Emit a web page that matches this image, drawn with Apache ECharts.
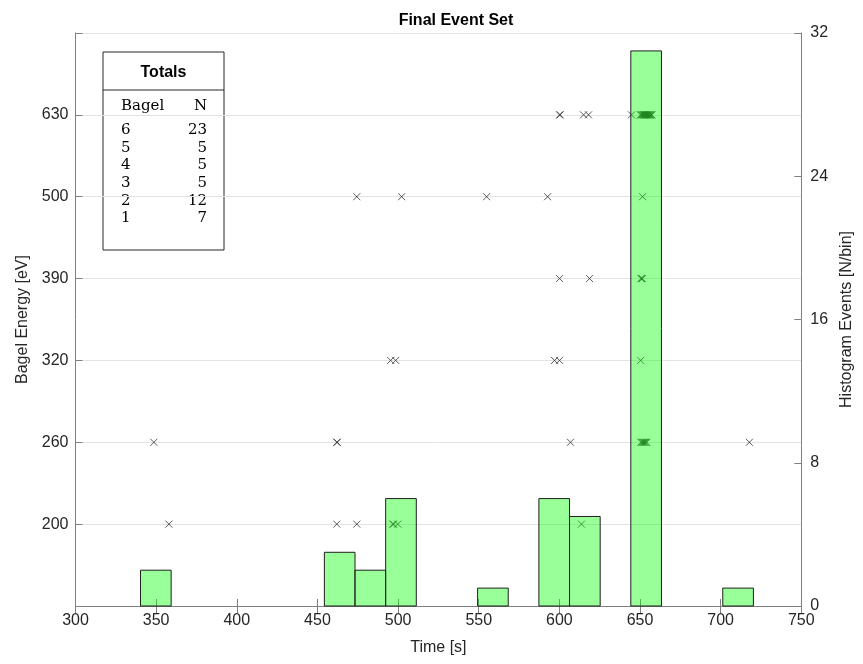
<!DOCTYPE html>
<html>
<head>
<meta charset="utf-8">
<script src="https://cdn.jsdelivr.net/npm/echarts@6/dist/echarts.min.js"></script>
<style>
  html, body { margin: 0; padding: 0; background: #ffffff; }
  #chart { width: 863px; height: 664px; }
</style>
</head>
<body>
<div id="chart"></div>
<script>
// Bagel index 1..6 and the energy each one is labelled with
const bagelIds = [1, 2, 3, 4, 5, 6];
const energyLabels = ['200', '260', '320', '390', '500', '630'];

// Event arrival times [s], one array per bagel
const eventTimes1 = [357.9, 462.0, 474.4, 496.7, 497.2, 499.8, 613.7];
const eventTimes2 = [348.6, 462.0, 462.3, 606.9, 650.5, 651.2, 651.8, 652.3, 652.9, 653.5, 654.2, 717.8];
const eventTimes3 = [495.4, 498.5, 597.0, 600.1, 650.4];
const eventTimes4 = [600.1, 618.7, 650.6, 651.0, 651.4];
const eventTimes5 = [474.4, 502.2, 554.9, 592.7, 651.6];
const eventTimes6 = [600.1, 600.5, 615.0, 618.1, 644.7,
                     650.2, 650.8, 651.3, 651.9, 652.4, 652.6, 653.0, 653.3, 653.7,
                     654.1, 654.4, 654.8, 655.2, 655.6, 656.0, 656.5, 657.0, 657.3];

// Histogram of all events: first edge, bin width and counts per bin
const histStart = 340.3;
const histBinWidth = 19;
const histCounts = [2, 0, 0, 0, 0, 0, 3, 2, 6, 0, 0, 1, 0, 6, 5, 0, 31, 0, 0, 1];

// Axis ranges
const timeRange = [300, 750, 50];
const histRange = [0, 32, 8];

const eventsByBagel = [eventTimes1, eventTimes2, eventTimes3, eventTimes4, eventTimes5, eventTimes6];

const scatterData = [];
eventsByBagel.forEach((times, i) => {
  times.forEach(t => scatterData.push([t, bagelIds[i]]));
});

const histData = [];
histCounts.forEach((c, i) => {
  if (c > 0) {
    const x0 = histStart + i * histBinWidth;
    histData.push([x0, x0 + histBinWidth, c]);
  }
});

const FONT = 'Liberation Sans, Arial, Helvetica, sans-serif';
const SERIF = 'DejaVu Serif, Liberation Serif, serif';
const AXIS_COLOR = '#808080';
const TEXT_COLOR = '#262626';
const LABEL_SIZE = 16;

const chart = echarts.init(document.getElementById('chart'), null, { renderer: 'canvas' });

// Totals table (upper left)
const tableX = 103, tableY = 52, tableW = 121, tableH = 198;
const tableChildren = [
  { type: 'rect', shape: { x: tableX, y: tableY, width: tableW, height: tableH },
    style: { fill: '#ffffff', stroke: '#262626', lineWidth: 1 } },
  { type: 'line', shape: { x1: tableX, y1: 90, x2: tableX + tableW, y2: 90 },
    style: { stroke: '#262626', lineWidth: 1 } },
  { type: 'text', x: tableX + tableW / 2, y: 73,
    style: { text: 'Totals', font: 'bold 16px ' + FONT, fill: '#000', align: 'center', verticalAlign: 'middle' } },
  { type: 'text', x: 121, y: 106,
    style: { text: 'Bagel', font: '15px ' + SERIF, fill: '#000', align: 'left', verticalAlign: 'middle' } },
  { type: 'text', x: 207, y: 106,
    style: { text: 'N', font: '15px ' + SERIF, fill: '#000', align: 'right', verticalAlign: 'middle' } }
];
const rowYs = [130, 148, 165.5, 183, 201, 218.5];
for (let r = 0; r < 6; r++) {
  const idx = 5 - r; // highest bagel first
  tableChildren.push({ type: 'text', x: 121, y: rowYs[r],
    style: { text: String(bagelIds[idx]), font: '15px ' + SERIF, fill: '#000', align: 'left', verticalAlign: 'middle' } });
  tableChildren.push({ type: 'text', x: 207, y: rowYs[r],
    style: { text: String(eventsByBagel[idx].length), font: '15px ' + SERIF, fill: '#000', align: 'right', verticalAlign: 'middle' } });
}

const option = {
  animation: false,
  backgroundColor: '#ffffff',
  title: {
    text: 'Final Event Set',
    left: 451, top: 8, textAlign: 'center',
    textStyle: { fontFamily: FONT, fontSize: 16, fontWeight: 'bold', color: '#000' }
  },
  grid: { left: 75.5, right: 61, top: 33, bottom: 58, show: false },
  xAxis: [
    {
      type: 'value', min: timeRange[0], max: timeRange[1], interval: timeRange[2], position: 'bottom',
      name: 'Time [s]', nameLocation: 'middle', nameGap: 34,
      nameTextStyle: { fontFamily: FONT, fontSize: LABEL_SIZE, color: TEXT_COLOR },
      axisLine: { show: true, lineStyle: { color: AXIS_COLOR, width: 1 } },
      axisTick: { show: true, inside: true, length: 7, lineStyle: { color: AXIS_COLOR } },
      axisLabel: { fontFamily: FONT, fontSize: LABEL_SIZE, color: TEXT_COLOR, margin: 7 },
      splitLine: { show: false }
    },
    {
      type: 'value', min: timeRange[0], max: timeRange[1], interval: timeRange[2], position: 'top',
      axisLine: { show: true, lineStyle: { color: AXIS_COLOR, width: 1 } },
      axisTick: { show: true, inside: true, length: 7, lineStyle: { color: AXIS_COLOR } },
      axisLabel: { show: false },
      splitLine: { show: false }
    }
  ],
  yAxis: [
    {
      type: 'value', min: 0, max: 7, interval: 1, position: 'left',
      name: 'Bagel Energy [eV]', nameLocation: 'middle', nameGap: 45,
      nameTextStyle: { fontFamily: FONT, fontSize: LABEL_SIZE, color: TEXT_COLOR },
      axisLine: { show: true, lineStyle: { color: AXIS_COLOR, width: 1 } },
      axisTick: { show: true, inside: true, length: 7, lineStyle: { color: AXIS_COLOR } },
      axisLabel: {
        fontFamily: FONT, fontSize: LABEL_SIZE, color: TEXT_COLOR, margin: 7,
        formatter: v => (v >= 1 && v <= 6 ? energyLabels[v - 1] : '')
      },
      splitLine: { show: true, lineStyle: { color: '#e3e3e3', width: 1 } }
    },
    {
      type: 'value', min: histRange[0], max: histRange[1], interval: histRange[2], position: 'right',
      name: 'Histogram Events [N/bin]', nameLocation: 'middle', nameGap: 37,
      nameTextStyle: { fontFamily: FONT, fontSize: LABEL_SIZE, color: TEXT_COLOR },
      axisLine: { show: true, lineStyle: { color: AXIS_COLOR, width: 1 } },
      axisTick: { show: true, inside: true, length: 7, lineStyle: { color: AXIS_COLOR } },
      axisLabel: { fontFamily: FONT, fontSize: LABEL_SIZE, color: TEXT_COLOR, margin: 9 },
      splitLine: { show: false }
    }
  ],
  series: [
    {
      type: 'scatter', xAxisIndex: 0, yAxisIndex: 0, z: 2, silent: true,
      symbol: 'path://M0,0L10,10M10,0L0,10', symbolSize: 7,
      itemStyle: { color: 'rgba(0,0,0,0)', borderColor: '#333333', borderWidth: 1 },
      data: scatterData
    },
    {
      type: 'custom', xAxisIndex: 0, yAxisIndex: 1, z: 3, silent: true,
      encode: { x: [0, 1], y: 2 },
      renderItem: (params, api) => {
        const topLeft = api.coord([api.value(0), api.value(2)]);
        const bottomRight = api.coord([api.value(1), 0]);
        return {
          type: 'rect',
          shape: { x: topLeft[0], y: topLeft[1], width: bottomRight[0] - topLeft[0], height: bottomRight[1] - topLeft[1] },
          style: { fill: 'rgba(0,255,0,0.4)', stroke: '#1f1f1f', lineWidth: 1 }
        };
      },
      data: histData
    }
  ],
  graphic: [{ type: 'group', z: 100, children: tableChildren }]
};

chart.setOption(option);
</script>
</body>
</html>
